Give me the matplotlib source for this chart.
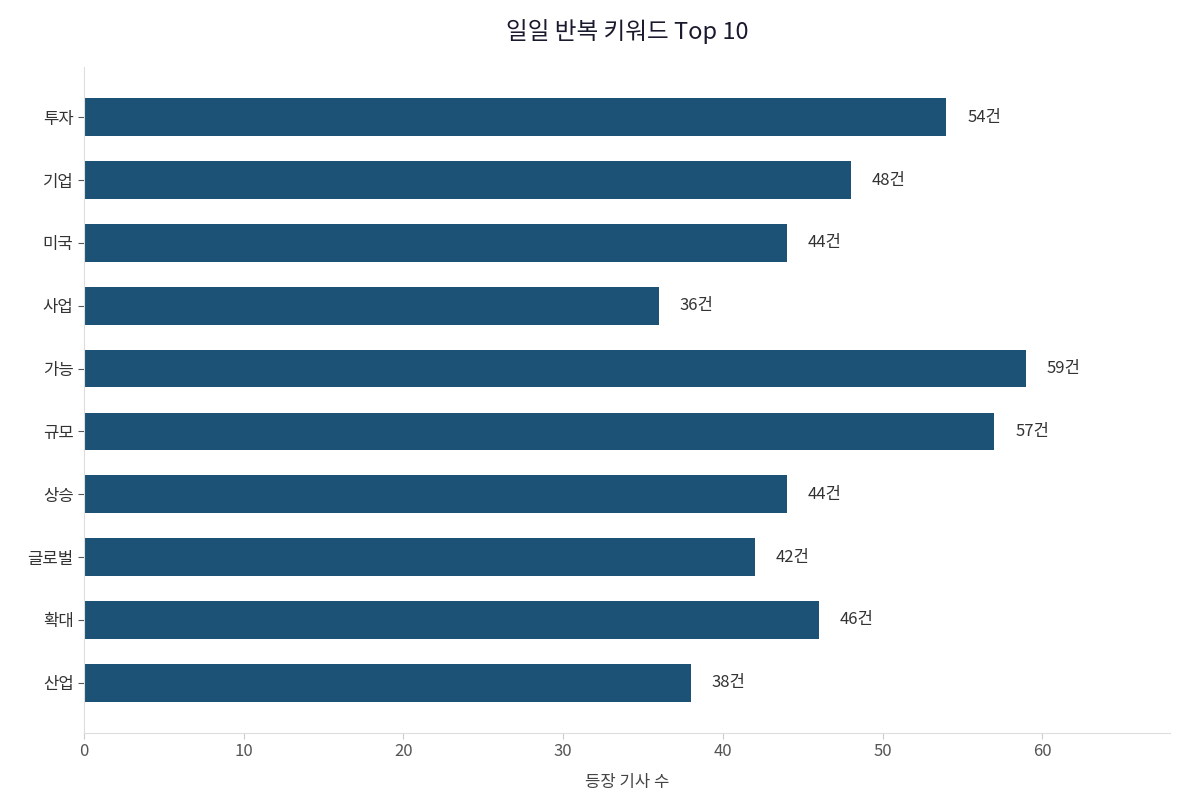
import matplotlib

matplotlib.use("Agg")
import matplotlib.pyplot as plt

plt.rcParams["font.family"] = ["Noto Sans CJK KR", "DejaVu Sans"]

keywords = ["투자", "기업", "미국", "사업", "가능", "규모", "상승", "글로벌", "확대", "산업"]
counts = [54, 48, 44, 36, 59, 57, 44, 42, 46, 38]

fig = plt.figure(figsize=(11.85, 8.09), dpi=100)
ax = fig.add_axes([84 / 1185, 1 - 733 / 809, (1170 - 84) / 1185, (733 - 67) / 809])

ypos = list(range(len(keywords)))
ax.barh(ypos, counts, height=0.6, color="#1b5276")
ax.set_yticks(ypos)
ax.set_yticklabels(keywords, fontsize=12, color="#333333")
ax.set_ylim(len(keywords) - 1 + 0.8, -0.8)
ax.set_xlim(0, 68)
ax.set_xticks(range(0, 61, 10))
ax.tick_params(axis="x", labelsize=12, colors="#555555", length=4, color="#cccccc")
ax.tick_params(axis="y", length=4, color="#555555")

for y, v in zip(ypos, counts):
    ax.text(v + 1.3, y, f"{v}건", va="center", ha="left", fontsize=12, color="#333333")

for s in ["top", "right"]:
    ax.spines[s].set_visible(False)
for s in ["left", "bottom"]:
    ax.spines[s].set_color("#dddddd")

ax.set_xlabel("등장 기사 수", fontsize=12, color="#444444", labelpad=10)
ax.set_title("일일 반복 키워드 Top 10", fontsize=17, color="#1a1a2e", pad=20)

fig.savefig("out.png", dpi=100)
